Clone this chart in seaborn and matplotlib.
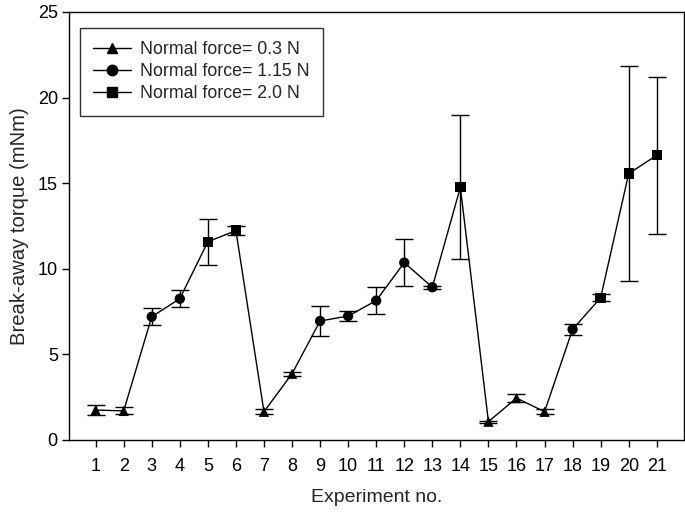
import matplotlib
matplotlib.use("Agg")
import matplotlib.pyplot as plt
from matplotlib.lines import Line2D
import seaborn as sns
import pandas as pd

experiments = list(range(1, 22))
torque = [1.75, 1.7, 7.2, 8.25, 11.58, 12.23, 1.65, 3.87, 6.95, 7.24, 8.14,
          10.36, 8.92, 14.76, 1.07, 2.45, 1.65, 6.46, 8.31, 15.56, 16.63]
err = [0.27, 0.2, 0.5, 0.5, 1.35, 0.25, 0.15, 0.12, 0.9, 0.28, 0.77,
       1.37, 0.1, 4.2, 0.05, 0.22, 0.15, 0.3, 0.22, 6.3, 4.6]
force = ["0.3", "0.3", "1.15", "1.15", "2.0", "2.0", "0.3", "0.3", "1.15", "1.15", "1.15",
         "1.15", "1.15", "2.0", "0.3", "0.3", "0.3", "1.15", "2.0", "2.0", "2.0"]
force_levels = ["0.3", "1.15", "2.0"]
legend_labels = ["Normal force= 0.3 N", "Normal force= 1.15 N", "Normal force= 2.0 N"]
markers = {"0.3": "^", "1.15": "o", "2.0": "s"}

df = pd.DataFrame({"exp": experiments, "torque": torque, "err": err, "force": force})

sns.set_style("ticks")
plt.rcParams["font.family"] = ["Liberation Sans", "DejaVu Sans"]

fig = plt.figure(figsize=(6.85, 5.14), dpi=100)
ax = fig.add_axes([0.1007, 0.144, 0.8978, 0.8327])

ax.errorbar(df["exp"], df["torque"], yerr=df["err"], fmt="none", ecolor="black",
            elinewidth=1.0, capsize=6.8, capthick=1.0, zorder=2)
sns.lineplot(data=df, x="exp", y="torque", color="black", linewidth=1.0, ax=ax,
             sort=False, zorder=3)
sns.scatterplot(data=df, x="exp", y="torque", style="force", markers=markers,
                style_order=force_levels, color="black", s=55, edgecolor="black",
                linewidth=0, ax=ax, legend=False, zorder=4)

ax.set_xlim(0.05, 21.97)
ax.set_ylim(0, 25)
ax.set_xticks(experiments)
ax.set_xticklabels([str(e) for e in experiments])
ax.set_yticks([0, 5, 10, 15, 20, 25])
ax.tick_params(axis="both", labelsize=13, colors="black", width=1.0, length=5,
               direction="out")
ax.tick_params(axis="x", pad=8)
ax.tick_params(axis="y", pad=3)
ax.set_xlabel("Experiment no.", fontsize=14, labelpad=10)
ax.set_ylabel("Break-away torque (mNm)", fontsize=14.6, labelpad=6)
for sp in ax.spines.values():
    sp.set_visible(True)
    sp.set_color("black")
    sp.set_linewidth(1.0)

handles = [Line2D([0], [0], color="black", lw=1.0, marker=markers[f], markersize=7.5,
                  markerfacecolor="black", markeredgecolor="black") for f in force_levels]
leg = ax.legend(handles, legend_labels, loc="upper left", bbox_to_anchor=(0.018, 0.9626),
                borderaxespad=0, fontsize=12.8, frameon=True, fancybox=False,
                edgecolor="black", handlelength=2.1, handletextpad=0.5,
                labelspacing=0.28, borderpad=0.75, numpoints=1)
leg.get_frame().set_linewidth(1.0)

fig.savefig("out.png", dpi=100)
